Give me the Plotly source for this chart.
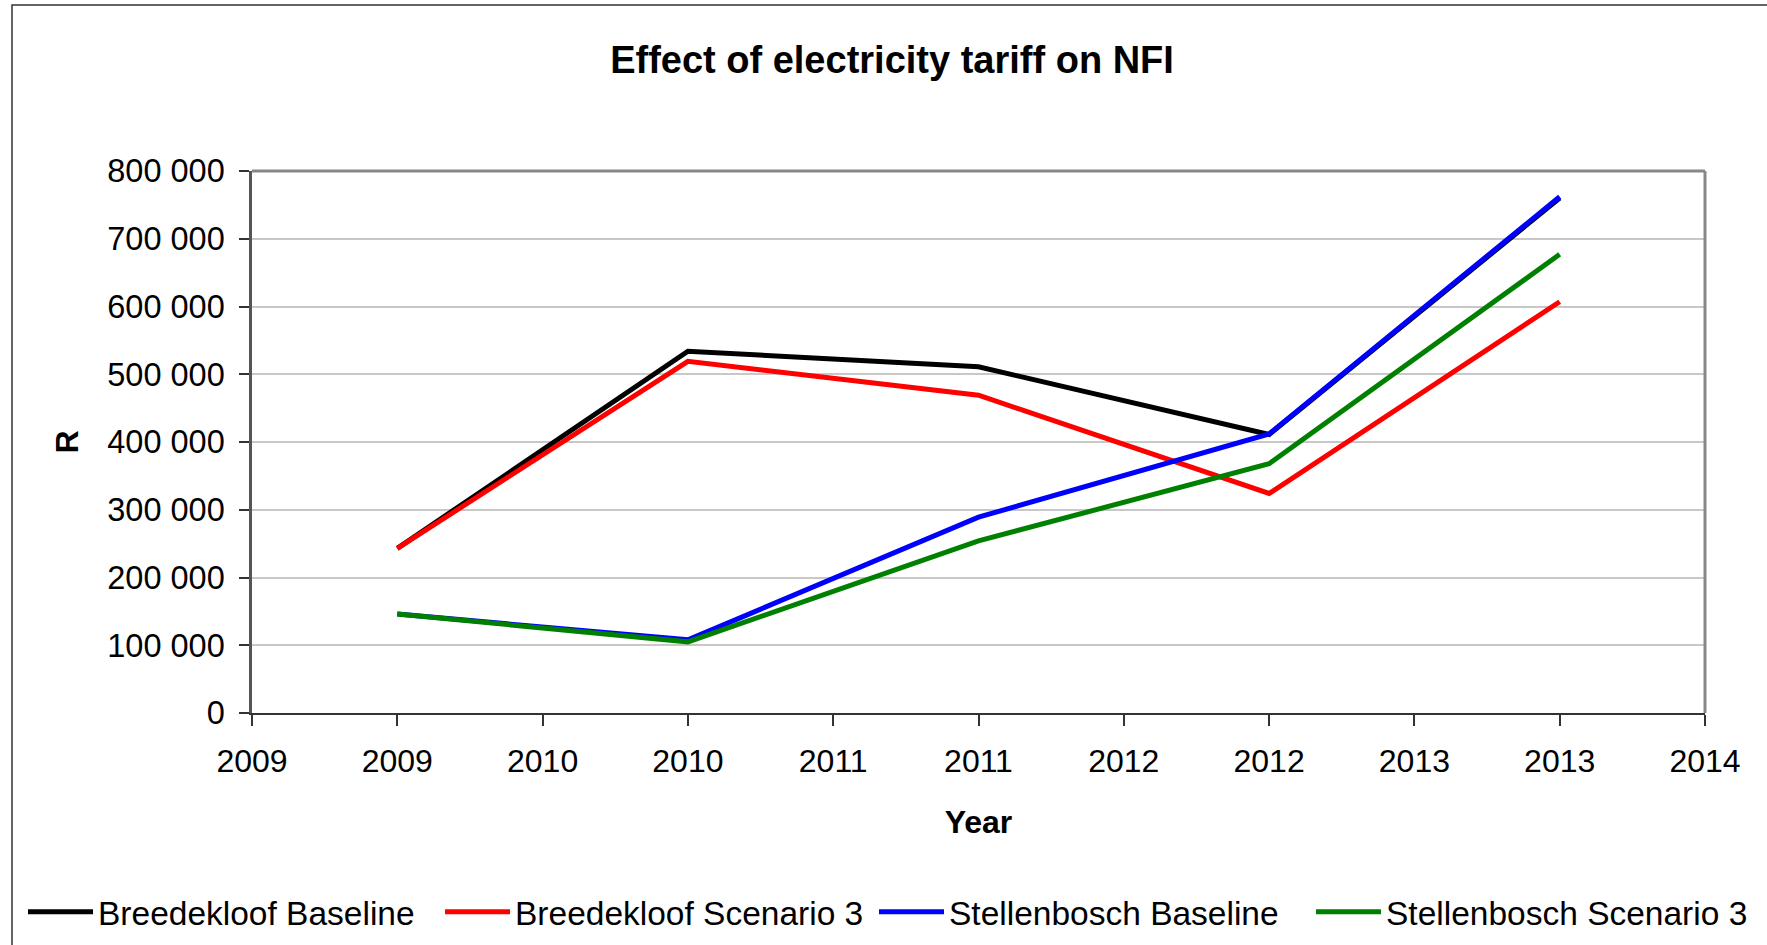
import plotly.graph_objects as go

# ---- data ----
years = [2009, 2010, 2011, 2012, 2013]
breedekloof_baseline = [243000, 534000, 511000, 411000, 760000]
breedekloof_scenario3 = [243000, 519000, 469000, 324000, 607000]
stellenbosch_baseline = [146000, 108000, 289000, 412000, 762000]
stellenbosch_scenario3 = [146000, 105000, 254000, 368000, 677000]

series_names = ["Breedekloof Baseline", "Breedekloof Scenario 3",
                "Stellenbosch Baseline", "Stellenbosch Scenario 3"]
series_values = [breedekloof_baseline, breedekloof_scenario3,
                 stellenbosch_baseline, stellenbosch_scenario3]
series_colors = ["#000000", "#ff0000", "#0000ff", "#008000"]

x_tick_vals = [2008.5, 2009, 2009.5, 2010, 2010.5, 2011, 2011.5, 2012, 2012.5, 2013, 2013.5]
x_tick_text = ["2009", "2009", "2010", "2010", "2011", "2011", "2012", "2012", "2013", "2013", "2014"]
y_tick_vals = [0, 100000, 200000, 300000, 400000, 500000, 600000, 700000, 800000]
y_tick_text = ["0", "100 000", "200 000", "300 000", "400 000", "500 000", "600 000", "700 000", "800 000"]

# ---- layout geometry (pixels) ----
W, H = 1767, 945
L, R, T, B = 252, W - 1705, 171, H - 713
PW, PH = W - L - R, H - T - B

def px_x(p):
    return (p - L) / PW

def px_y(p):
    return (H - B - p) / PH

FONT = "Liberation Sans, Arial, sans-serif"

# one legend per series, placed side by side along the bottom
legend_ids = ["legend", "legend2", "legend3", "legend4"]
legend_left_px = [23, 440, 874, 1311]

fig = go.Figure()
for name, vals, col, lid in zip(series_names, series_values, series_colors, legend_ids):
    fig.add_trace(go.Scatter(x=years, y=vals, mode="lines", name=name,
                             line=dict(color=col, width=5), legend=lid))

legend_style = dict(orientation="h", xanchor="left", y=px_y(912), yanchor="middle",
                    font=dict(family=FONT, size=33.5, color="black"),
                    bgcolor="rgba(0,0,0,0)", itemwidth=65)

fig.update_layout(
    width=W, height=H,
    margin=dict(l=L, r=R, t=T, b=B, pad=0, autoexpand=False),
    paper_bgcolor="white", plot_bgcolor="white",
    font=dict(family=FONT, size=32, color="black"),
    title=dict(text="<b>Effect of electricity tariff on NFI</b>",
               font=dict(family=FONT, size=38, color="black"),
               x=892 / W, xanchor="center", y=1 - 60 / H, yanchor="middle"),
    showlegend=True,
    xaxis=dict(range=[2008.5, 2013.5], tickmode="array",
               tickvals=x_tick_vals, ticktext=x_tick_text,
               showgrid=False, zeroline=False,
               showline=True, linecolor="#333333", linewidth=2,
               ticks="outside", ticklen=11, tickwidth=2, tickcolor="#333333",
               ticklabelstandoff=8,
               tickfont=dict(family=FONT, size=32, color="black"),
               title=dict(text="<b>Year</b>", standoff=32,
                          font=dict(family=FONT, size=32, color="black"))),
    yaxis=dict(range=[0, 800000], tickmode="array",
               tickvals=y_tick_vals, ticktext=y_tick_text,
               showgrid=True, gridcolor="#c8c8c8", gridwidth=1.5,
               zeroline=False,
               showline=True, linecolor="#555555", linewidth=2.5,
               ticks="outside", ticklen=10, tickwidth=2, tickcolor="#333333",
               ticklabelstandoff=8,
               tickfont=dict(family=FONT, size=32.5, color="black"),
               title=dict(text="<b>R</b>", standoff=20,
                          font=dict(family=FONT, size=32, color="black"))),
)
for lid, lx in zip(legend_ids, legend_left_px):
    fig.update_layout({lid: dict(legend_style, x=px_x(lx))})

# plot area border on top and right (gray)
fig.add_shape(type="line", xref="x domain", yref="y domain", x0=0, x1=1, y0=1, y1=1,
              line=dict(color="#888888", width=3), layer="above")
fig.add_shape(type="line", xref="x domain", yref="y domain", x0=1, x1=1, y0=0, y1=1,
              line=dict(color="#888888", width=3), layer="above")
# outer chart border (cropped on right and bottom)
fig.add_shape(type="rect", xref="paper", yref="paper",
              x0=px_x(12), x1=px_x(W + 20), y0=px_y(H + 20), y1=px_y(5),
              line=dict(color="#333333", width=1.5), layer="below")

fig.write_html("out.html")
